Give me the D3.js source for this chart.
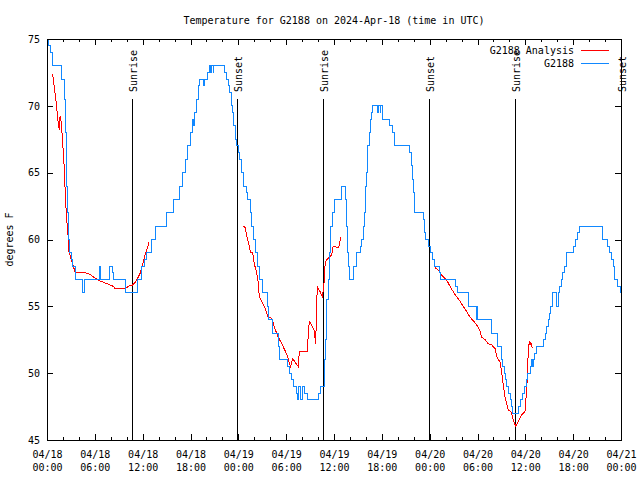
<!DOCTYPE html>
<html><head><meta charset="utf-8">
<script src="https://cdn.jsdelivr.net/npm/d3@7"></script>
<style>
body{margin:0;background:#fff;}
text{font-family:"DejaVu Sans Mono","Liberation Mono",monospace;font-size:10px;fill:#000;}
</style></head>
<body><svg id="c" width="640" height="480"></svg>
<script>
// ---- data (hours since 2024-04-18 00:00 UTC, temperature F) ----
const titleText = "Temperature for G2188 on 2024-Apr-18 (time in UTC)";
const yLabel = "degrees F";
const seriesNames = ["G2188 Analysis", "G2188"];
const yTicks = [45, 50, 55, 60, 65, 70, 75];
const xMajorHours = [0, 6, 12, 18, 24, 30, 36, 42, 48, 54, 60, 66, 72];
const xMinorHours = [2,4,8,10,14,16,20,22,26,28,32,34,38,40,44,46,50,52,56,58,62,64,68,70];
const sunLabels = ["Sunrise", "Sunset", "Sunrise", "Sunset", "Sunrise", "Sunset"];
const sunHours = [10.7, 23.87, 34.66, 47.95, 58.78, 72.0];

// observed station (step values)
const obsHours = [0.0,0.25,0.45,0.7,1.78,2.2,2.3,2.4,2.5,2.6,2.7,2.8,3.05,3.2,3.6,4.5,4.75,6.6,6.75,7.8,8.2,8.4,9.8,11.4,11.85,12.2,12.45,13.1,13.65,15.05,15.9,16.6,17.0,17.35,17.65,18.0,18.25,18.4,18.5,18.75,18.95,19.15,19.6,19.7,20.1,20.4,20.56,20.64,20.85,20.93,22.3,22.5,22.75,22.95,23.1,23.3,23.45,23.6,23.8,24.05,24.2,24.4,24.6,25.0,25.2,25.5,25.7,25.9,26.15,26.4,26.6,27.05,27.6,27.8,28.3,29.0,29.2,30.15,30.45,30.7,30.9,31.3,31.45,31.6,31.85,32.05,32.25,32.7,34.05,34.3,34.75,34.85,34.95,35.0,35.1,35.3,35.4,35.55,35.85,36.1,36.95,37.45,37.6,37.75,37.85,37.95,38.45,38.8,39.3,39.5,39.7,39.8,39.9,40.0,40.05,40.15,40.25,40.45,40.6,40.7,40.8,41.45,41.53,41.8,41.88,42.05,43.0,43.3,43.6,45.5,45.7,45.85,46.0,46.15,47.25,47.35,47.5,47.9,48.15,48.4,48.6,49.25,49.4,51.2,51.45,52.9,53.85,53.95,54.05,55.7,56.5,56.95,57.15,57.35,57.55,57.7,57.95,58.15,58.3,58.4,59.2,59.4,59.7,59.95,60.2,60.3,60.7,60.8,60.9,61.0,61.15,61.35,62.3,62.5,62.7,62.9,63.05,63.2,63.45,63.95,64.1,64.3,64.5,64.7,64.95,65.2,66.05,66.25,66.5,66.75,69.7,70.3,70.5,70.8,71.0,71.2,71.6,71.9,72.0];
const obsTemps = [75,74.5,74,73,72,70.5,68,66,64,62,60,59,58.5,58,57,56,57,58,57,58,57.5,57,56,57,58,58.5,59,60,61,62,63,64,65,66,67,68,69,68.5,69.5,70.5,71.5,72,71.5,72,72.5,73,72.5,73,72.5,73,72.5,72,71.5,71,70,69.5,68.5,67.5,67,66.5,66,65,64,63.5,63,62,61,60,59,58,57,56,55,54,53,52,51,50.5,50,49.5,49,48.5,48,49,48,49,48.5,48,48.5,49,50,51,52.5,54,55.5,57,59,61,62,63,64,63,61,59,58,57,58,59,59.5,60,61,62,63,64,65,66,67,68,69,69.5,70,69.5,70,69.5,70,69,68.5,68,67,66.5,65.5,64.5,63.5,62,61.5,60.5,60,59.5,59,58.5,58,57.5,57,56.5,56,55,54,55,54,53,52,51,50.5,50,49.5,49,48.5,48,47.5,47,47.5,48,48.5,49,49.5,50,50.5,51,50.5,51,51.5,52,52.5,53,53.5,54,54.5,55,56,55,56,56.5,57,57.5,58,59,59.5,60,60.5,61,60,59.5,59,58.5,58,57,56.5,56,56];

// analysis (three segments)
const anaHours1 = [0.67,0.8,0.92,1.08,1.2,1.33,1.42,1.55,1.6,1.7,1.84,1.97,2.13,2.2,2.34,2.42,2.6,2.76,3.1,3.3,3.5,3.7,4.9,5.4,5.8,6.65,7.5,8.3,8.6,9.8,10.2,10.75,11.05,11.45,11.7,11.9,12.1,12.33,12.55,12.7,12.8];
const anaTemps1 = [72.4,72.0,71.3,70.7,69.9,69.2,68.6,68.2,69.1,69.2,68.4,67.2,65.7,64.5,63.2,61.8,60.7,59.1,58.4,58.0,57.6,57.5,57.5,57.4,57.2,56.9,56.7,56.5,56.3,56.3,56.5,56.6,56.8,57.2,57.5,57.9,58.4,58.9,59.3,59.6,59.8];
const anaHours2 = [24.6,24.85,25.05,25.25,25.55,25.8,26.0,26.3,26.5,26.63,26.9,27.35,27.75,28.2,28.6,29.0,29.45,29.85,30.15,30.35,30.55,30.8,31.1,31.5,31.65,32.65,32.8,32.9,33.1,33.5,33.7,33.8,33.9,34.25,34.55,34.8,34.9,35.3,35.7,35.9,36.5,36.6,36.85];
const anaTemps2 = [61.0,60.9,60.3,59.8,59.0,59.0,58.2,57.5,56.8,55.7,55.4,54.85,54.2,54.1,53.3,52.7,52.2,51.7,51.3,50.85,50.5,51.1,50.85,50.5,51.6,51.6,53.2,53.85,53.7,53.2,52.2,54.35,56.5,56.1,55.7,57.0,58.35,58.6,58.85,59.5,59.4,59.4,60.2];
const anaHours3 = [48.65,49.1,49.3,49.7,50.1,50.55,50.95,51.4,51.8,52.2,52.65,53.05,53.5,53.9,54.3,54.5,54.95,55.35,55.8,56.2,56.4,56.6,56.8,57.0,57.25,57.45,57.65,57.85,58.2,58.5,58.8,59.1,59.55,59.95,60.1,60.2,60.3,60.4,60.5,60.6,60.7,60.85];
const anaTemps3 = [57.9,57.7,57.5,57.2,57.0,56.5,56.1,55.7,55.4,55.0,54.6,54.2,53.9,53.6,53.2,52.7,52.5,52.2,52.1,51.85,51.3,51.0,50.9,50.25,49.0,48.25,47.75,47.25,47.1,46.5,46.0,46.4,46.9,47.1,48.25,49.1,50.75,51.9,52.4,52.1,52.3,51.9];

// ---- drawing ----
const BASE = Date.UTC(2024, 3, 18);
const toDate = h => new Date(BASE + h * 3600e3);
const L = 47, R = 621, T = 39, B = 440;
const RED = "#ff0000", BLUE = "#1188ff";

const svg = d3.select("#c");
const x = d3.scaleUtc().domain([toDate(0), toDate(72)]).range([L, R]);
const y = d3.scaleLinear().domain([45, 75]).range([B, T]);

svg.append("defs").append("clipPath").attr("id", "clip")
  .append("rect").attr("x", L).attr("y", T).attr("width", R - L).attr("height", B - T);

// title
svg.append("text").attr("x", (L + R) / 2).attr("y", 24).attr("text-anchor", "middle").text(titleText);

// y label
svg.append("text").attr("transform", `translate(13,${(T + B) / 2}) rotate(-90)`)
  .attr("text-anchor", "middle").text(yLabel);

// axes
const fmtD = d3.utcFormat("%m/%d"), fmtT = d3.utcFormat("%H:%M");
const majors = xMajorHours.map(toDate), minors = xMinorHours.map(toDate);

const gB = svg.append("g").attr("transform", `translate(0,${B})`)
  .call(d3.axisBottom(x).tickValues(majors).tickSizeInner(-6).tickSizeOuter(0).tickPadding(0).tickFormat(""));
gB.selectAll(".tick").each(function(d) {
  const t = d3.select(this).select("text").attr("y", null).attr("dy", null);
  t.append("tspan").attr("x", 0).attr("y", 17.5).text(fmtD(d));
  t.append("tspan").attr("x", 0).attr("y", 30.5).text(fmtT(d));
});
svg.append("g").attr("transform", `translate(0,${B})`)
  .call(d3.axisBottom(x).tickValues(minors).tickSizeInner(-3).tickSizeOuter(0).tickFormat(""));
svg.append("g").attr("transform", `translate(0,${T})`)
  .call(d3.axisTop(x).tickValues(majors).tickSizeInner(-6).tickSizeOuter(0).tickFormat(""));
svg.append("g").attr("transform", `translate(0,${T})`)
  .call(d3.axisTop(x).tickValues(minors).tickSizeInner(-3).tickSizeOuter(0).tickFormat(""));
svg.append("g").attr("transform", `translate(${L},0)`)
  .call(d3.axisLeft(y).tickValues(yTicks).tickSizeInner(-6).tickSizeOuter(0).tickPadding(7));
svg.append("g").attr("transform", `translate(${R},0)`)
  .call(d3.axisRight(y).tickValues(yTicks).tickSizeInner(-6).tickSizeOuter(0).tickFormat(""));
svg.selectAll(".domain").remove();
svg.selectAll(".tick line").attr("stroke", "#000").attr("shape-rendering", "crispEdges");
svg.selectAll(".tick text").attr("fill", "#000");
svg.selectAll("g").attr("font-family", null).attr("font-size", null);

// sunrise / sunset
sunHours.forEach((h, i) => {
  const xx = x(toDate(h));
  svg.append("line").attr("x1", xx).attr("x2", xx).attr("y1", 99).attr("y2", B)
    .attr("stroke", "#000").attr("shape-rendering", "crispEdges");
  svg.append("text").attr("transform", `translate(${xx + 4.5},92) rotate(-90)`)
    .attr("text-anchor", "start").text(sunLabels[i]);
});

// lines
const plot = svg.append("g").attr("clip-path", "url(#clip)");
const lineLin = d3.line().x(d => x(toDate(d[0]))).y(d => y(d[1]));
const lineStep = d3.line().x(d => x(toDate(d[0]))).y(d => y(d[1])).curve(d3.curveStepAfter);
[[anaHours1, anaTemps1], [anaHours2, anaTemps2], [anaHours3, anaTemps3]].forEach(([hs, ts]) => {
  plot.append("path").datum(hs.map((h, i) => [h, ts[i]])).attr("d", lineLin)
    .attr("fill", "none").attr("stroke", RED).attr("stroke-width", 1)
    .attr("shape-rendering", "crispEdges");
});
plot.append("path").datum(obsHours.map((h, i) => [h, obsTemps[i]])).attr("d", lineStep)
  .attr("fill", "none").attr("stroke", BLUE).attr("stroke-width", 1)
  .attr("shape-rendering", "crispEdges");

// border
svg.append("rect").attr("x", L).attr("y", T).attr("width", R - L).attr("height", B - T)
  .attr("fill", "none").attr("stroke", "#000").attr("shape-rendering", "crispEdges");

// legend
const leg = [[seriesNames[0], RED, 50], [seriesNames[1], BLUE, 63]];
leg.forEach(([name, col, yy]) => {
  svg.append("text").attr("x", 574).attr("y", yy + 3.5).attr("text-anchor", "end").text(name);
  svg.append("line").attr("x1", 581).attr("x2", 609).attr("y1", yy).attr("y2", yy)
    .attr("stroke", col).attr("shape-rendering", "crispEdges");
});
</script></body></html>
